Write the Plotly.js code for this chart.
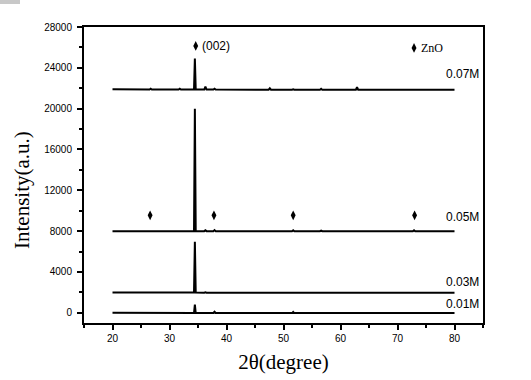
<!DOCTYPE html>
<html><head><meta charset="utf-8">
<script src="https://cdn.plot.ly/plotly-3.0.1.min.js"></script>
<style>html,body{margin:0;padding:0;background:#fff;}#chart{width:531px;height:380px;}</style>
</head><body><div id="chart"></div>
<script>
const twoTheta = [20, 22, 24, 26.5, 26.7, 26.9, 29, 31.6, 31.8, 32.0, 34.3, 34.45, 34.6, 36.1, 36.3, 36.5, 37.7, 37.9, 38.1, 42, 47.4, 47.6, 47.8, 51.5, 51.7, 51.9, 56.4, 56.6, 56.8, 62.7, 62.9, 63.1, 68, 72.7, 72.9, 73.1, 80];
const int007 = [21900, 21880, 21880, 21870, 21950, 21870, 21870, 21870, 21950, 21870, 21870, 24900, 21870, 21870, 22150, 21870, 21870, 21950, 21870, 21860, 21860, 22000, 21860, 21860, 21900, 21860, 21860, 21950, 21860, 21860, 22100, 21860, 21860, 21860, 21900, 21860, 21860];
const int005 = [8000, 8000, 8000, 8000, 8060, 8000, 8000, 8000, 8020, 8000, 8000, 20000, 8000, 8000, 8080, 8000, 8000, 8100, 8000, 7990, 7990, 8030, 7990, 7990, 8080, 7990, 7990, 8050, 7990, 7990, 8020, 7990, 7990, 7990, 8090, 7990, 7990];
const int003 = [2000, 1990, 1990, 1980, 2010, 1980, 1980, 1980, 1990, 1980, 1980, 6950, 1980, 1970, 2010, 1970, 1970, 2040, 1970, 1970, 1970, 1990, 1970, 1970, 2040, 1970, 1970, 2000, 1970, 1970, 1990, 1970, 1970, 1970, 2030, 1970, 1970];
const int001 = [0, -10, -20, -20, 10, -20, -20, -20, -10, -20, -20, 800, -20, -20, 0, -20, -20, 100, -20, -30, -30, -20, -30, -30, 80, -30, -30, -20, -30, -30, -30, -30, -30, -30, -30, -30, -30];
const markX = [26.6, 37.8, 51.7, 73.0];
const markY = [9550, 9550, 9550, 9550];
const peakMarkX = [34.6];
const peakMarkY = [26150];
const legendMarkX = [72.9];
const legendMarkY = [25950];
const labels = ["0.07M", "0.05M", "0.03M", "0.01M"];
const labelY = [23400, 9370, 3050, 880];
const yTicks = [0, 4000, 8000, 12000, 16000, 20000, 24000, 28000];
const xTicks = [20, 30, 40, 50, 60, 70, 80];

const line = {color: '#000', width: 2};
const traces = [int007, int005, int003, int001].map(v => ({
  x: twoTheta, y: v, type: 'scatter', mode: 'lines', line: line, hoverinfo: 'skip'
}));
const dmark = {symbol: 'diamond-tall', size: 7, color: '#000'};
traces.push({x: markX, y: markY, type: 'scatter', mode: 'markers', marker: dmark});
traces.push({x: peakMarkX, y: peakMarkY, type: 'scatter', mode: 'markers', marker: dmark});
traces.push({x: legendMarkX, y: legendMarkY, type: 'scatter', mode: 'markers', marker: dmark});

const annotations = labels.map((t, i) => ({
  x: 84.6, y: labelY[i], xref: 'x', yref: 'y', text: t, showarrow: false,
  xanchor: 'right', yanchor: 'middle', font: {family: 'Arial, Liberation Sans', size: 12, color: '#000'}
}));
annotations.push({x: 35.3, y: 26150, xref: 'x', yref: 'y', text: '(002)', showarrow: false,
  xanchor: 'left', yanchor: 'middle', font: {family: 'Arial, Liberation Sans', size: 12, color: '#000'}});
annotations.push({x: 73.7, y: 25950, xref: 'x', yref: 'y', text: 'ZnO', showarrow: false,
  xanchor: 'left', yanchor: 'middle', font: {family: 'Times New Roman, Liberation Serif', size: 12, color: '#000'}});
annotations.push({x: (22 - 84) / 399, y: 1 - (190 - 27) / 296, xref: 'paper', yref: 'paper', text: 'Intensity(a.u.)', showarrow: false,
  textangle: -90, xanchor: 'center', yanchor: 'middle',
  font: {family: 'Times New Roman, Liberation Serif', size: 21, color: '#000'}});

const layout = {
  width: 531, height: 380,
  margin: {l: 84, r: 48, t: 27, b: 57},
  paper_bgcolor: '#fff', plot_bgcolor: '#fff',
  showlegend: false,
  xaxis: {
    range: [15, 85], tickmode: 'array', tickvals: xTicks, ticktext: xTicks.map(String),
    ticks: 'outside', ticklen: 5, tickwidth: 2, tickcolor: '#000',
    minor: {tickvals: [15, 25, 35, 45, 55, 65, 75, 85], ticks: 'outside', ticklen: 3, tickwidth: 2, tickcolor: '#000'},
    showline: true, linewidth: 2, linecolor: '#000', mirror: true,
    showgrid: false, zeroline: false,
    tickfont: {family: 'Arial, Liberation Sans', size: 10, color: '#000'},
    title: {text: '2θ(degree)', font: {family: 'Times New Roman, Liberation Serif', size: 21, color: '#000'}, standoff: 11}
  },
  yaxis: {
    range: [-1000, 28000], tickmode: 'array', tickvals: yTicks, ticktext: yTicks.map(String),
    ticks: 'outside', ticklen: 5, tickwidth: 2, tickcolor: '#000',
    minor: {tickvals: [2000, 6000, 10000, 14000, 18000, 22000, 26000], ticks: 'outside', ticklen: 3, tickwidth: 2, tickcolor: '#000'},
    showline: true, linewidth: 2, linecolor: '#000', mirror: true,
    showgrid: false, zeroline: false,
    tickfont: {family: 'Arial, Liberation Sans', size: 10, color: '#000'},
    ticklabelstandoff: 3
  },
  annotations: annotations,
  shapes: [{type: 'rect', xref: 'paper', yref: 'paper', x0: -84/399, x1: -64/399, y0: 1 + 27/296, y1: 1 + 23/296,
    fillcolor: '#c8c8c8', line: {width: 0}}]
};
Plotly.newPlot('chart', traces, layout, {displayModeBar: false, staticPlot: true});
</script></body></html>
